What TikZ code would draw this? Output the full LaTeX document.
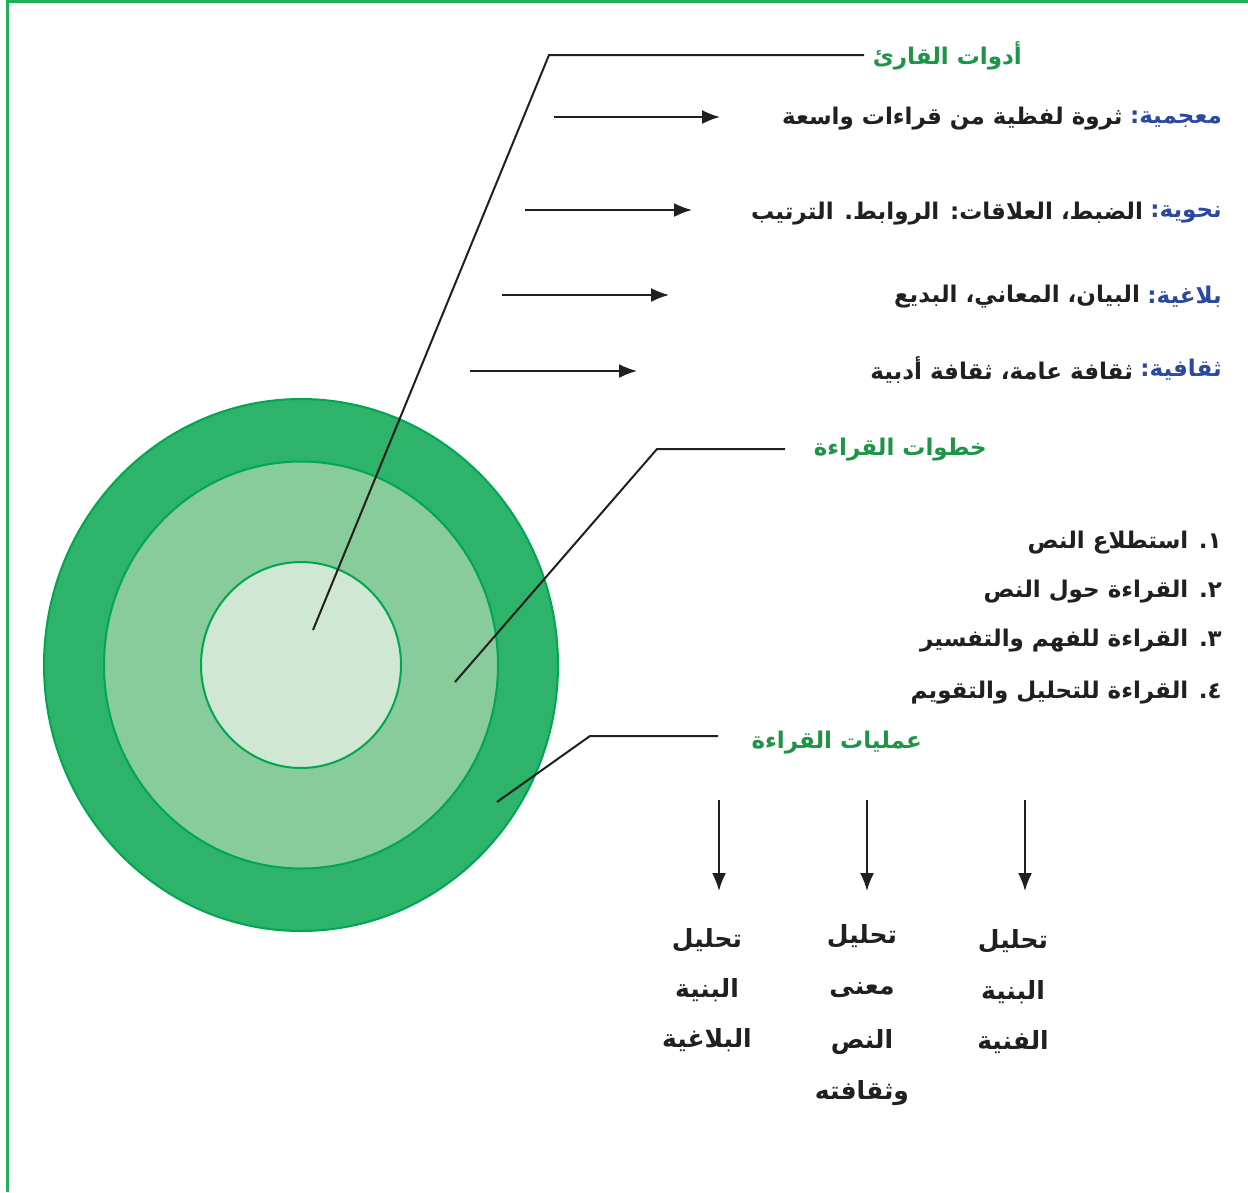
\documentclass[tikz,border=0pt]{standalone}
\usepackage{fontspec}
\usetikzlibrary{arrows.meta,shapes.geometric}
\newfontfamily\ar[Script=Arabic]{DejaVu Sans}
\TeXXeTstate=1
\definecolor{frameg}{HTML}{1DB15A}
\definecolor{ring1}{HTML}{2DB36A}
\definecolor{ring2}{HTML}{89CC9B}
\definecolor{ring3}{HTML}{CFE7D3}
\definecolor{ringline}{HTML}{00A651}
\definecolor{titleg}{HTML}{1E9446}
\definecolor{labelb}{HTML}{2B4A9F}
\definecolor{ink}{HTML}{231F20}
\begin{document}
\begin{tikzpicture}[x=1pt,y=-1pt,
  txt/.style={font=\ar\bfseries\fontsize{23}{27}\selectfont, inner sep=0pt, text=ink},
  coltxt/.style={txt, font=\ar\bfseries\fontsize{25}{29}\selectfont},
  ttl/.style={txt, text=titleg},
  lbl/.style={txt, text=labelb},
  leader/.style={draw=ink, line width=2pt},
  arr/.style={draw=ink, line width=1.8pt, -{Latex[length=18pt,width=14pt]}},
  ring/.style={ellipse, draw=ringline, line width=2pt, inner sep=0pt}]
\useasboundingbox (0,0) rectangle (1248,1192);
\fill[white] (0,0) rectangle (1248,1192);
% frame
\draw[frameg, line width=2.5pt] (7.3,1192) -- (7.3,1.3) -- (1248,1.3);
% circles
\node[ring, fill=ring1, minimum width=514pt, minimum height=532pt] (outer) at (301,665) {};
\node[ring, fill=ring2, minimum width=394pt, minimum height=407pt] (middle) at (301,665) {};
\node[ring, fill=ring3, minimum width=200pt, minimum height=206pt] (inner) at (301,665) {};
% titles
\node[ttl, anchor=east] (t1) at (1022,56) {\beginR أدوات القارئ\endR};
\node[ttl, anchor=east] (t2) at (987,450) {\beginR خطوات القراءة\endR};
\node[ttl, anchor=east] (t3) at (922,743) {\beginR عمليات القراءة\endR};
% leader lines
\coordinate (p1) at (313,630);
\coordinate (b1) at (549,55);
\coordinate (s1) at (864,55);
\coordinate (p2) at (455,682);
\coordinate (b2) at (657,449);
\coordinate (s2) at (785,449);
\coordinate (p3) at (497,802);
\coordinate (b3) at (590,736);
\coordinate (s3) at (718,736);
\draw[leader] (s1) -- (b1) -- (p1);
\draw[leader] (s2) -- (b2) -- (p2);
\draw[leader] (s3) -- (b3) -- (p3);
% reader tools
\node[lbl, anchor=east] (l1) at (1222,119) {\beginR معجمية:\endR};
\node[txt, anchor=east] (r1) at ([xshift=-7pt]l1.west) {\beginR ثروة لفظية من قراءات واسعة\endR};
\node[lbl, anchor=east] (l2) at (1222,214) {\beginR نحوية:\endR};
\node[txt, anchor=east] (r2) at ([xshift=-7pt]l2.west) {\beginR الضبط، العلاقات: الروابط. الترتيب\endR};
\node[lbl, anchor=east] (l3) at (1222,297) {\beginR بلاغية:\endR};
\node[txt, anchor=east] (r3) at ([xshift=-7pt]l3.west) {\beginR البيان، المعاني، البديع\endR};
\node[lbl, anchor=east] (l4) at (1222,370) {\beginR ثقافية:\endR};
\node[txt, anchor=east] (r4) at ([xshift=-7pt]l4.west) {\beginR ثقافة عامة، ثقافة أدبية\endR};
\coordinate (a1s) at (554,117); \coordinate (a1e) at (720,117);
\coordinate (a2s) at (525,210); \coordinate (a2e) at (692,210);
\coordinate (a3s) at (502,295); \coordinate (a3e) at (669,295);
\coordinate (a4s) at (470,371); \coordinate (a4e) at (637,371);
\draw[arr] (a1s) -- (a1e);
\draw[arr] (a2s) -- (a2e);
\draw[arr] (a3s) -- (a3e);
\draw[arr] (a4s) -- (a4e);
% reading steps
\node[txt, anchor=east] (s1t) at (1222,543) {\beginR ١. استطلاع النص\endR};
\node[txt, anchor=east] (s2t) at (1222,592) {\beginR ٢. القراءة حول النص\endR};
\node[txt, anchor=east] (s3t) at (1222,641) {\beginR ٣. القراءة للفهم والتفسير\endR};
\node[txt, anchor=east] (s4t) at (1222,693) {\beginR ٤. القراءة للتحليل والتقويم\endR};
% reading operations
\coordinate (d1s) at (719,800); \coordinate (d1e) at (719,891);
\coordinate (d2s) at (867,800); \coordinate (d2e) at (867,891);
\coordinate (d3s) at (1025,800); \coordinate (d3e) at (1025,891);
\draw[arr] (d1s) -- (d1e);
\draw[arr] (d2s) -- (d2e);
\draw[arr] (d3s) -- (d3e);
\node[coltxt] (c1a) at (707,940) {\beginR تحليل\endR};
\node[coltxt] (c1b) at (707,990) {\beginR البنية\endR};
\node[coltxt] (c1c) at (707,1040) {\beginR البلاغية\endR};
\node[coltxt] (c2a) at (862,936) {\beginR تحليل\endR};
\node[coltxt] (c2b) at (862,990) {\beginR معنى\endR};
\node[coltxt] (c2c) at (862,1042) {\beginR النص\endR};
\node[coltxt] (c2d) at (862,1093) {\beginR وثقافته\endR};
\node[coltxt] (c3a) at (1013,941) {\beginR تحليل\endR};
\node[coltxt] (c3b) at (1013,992) {\beginR البنية\endR};
\node[coltxt] (c3c) at (1013,1042) {\beginR الفنية\endR};
\end{tikzpicture}
\end{document}
